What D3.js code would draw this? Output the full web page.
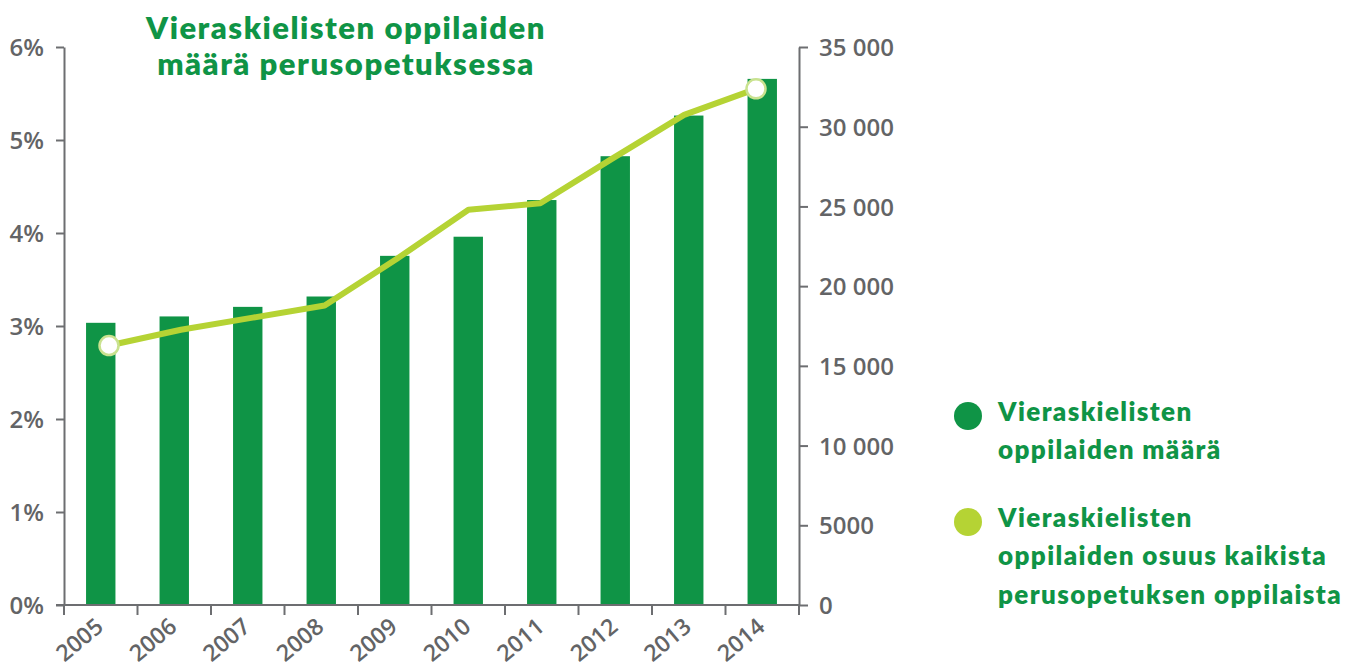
<!DOCTYPE html>
<html>
<head>
<meta charset="utf-8">
<script src="https://cdn.jsdelivr.net/npm/d3@7"></script>
<style>
  body { margin: 0; background: #fff; }
  .tick text { font-family: "Open Sans", sans-serif; font-weight: 600; font-size: 24px; fill: #636466; }
  .title, .legend text { font-family: Lato, sans-serif; font-weight: 800; fill: #0f9446; }
</style>
</head>
<body>
<div id="viz"></div>
<script>

// data
var years = ["2005","2006","2007","2008","2009","2010","2011","2012","2013","2014"];
var pupils = [17700, 18100, 18700, 19350, 21900, 23100, 25400, 28150, 30700, 33000];
var share = [2.79, 2.96, 3.09, 3.22, 3.72, 4.25, 4.32, 4.80, 5.27, 5.55];
var leftTicks = [0, 1, 2, 3, 4, 5, 6];
var rightTicks = [0, 5000, 10000, 15000, 20000, 25000, 30000, 35000];
var titleLines = ["Vieraskielisten oppilaiden", "määrä perusopetuksessa"];
var legendItems = [
	{color: "#0f9446", lines: ["Vieraskielisten", "oppilaiden määrä"]},
	{color: "#b5d334", lines: ["Vieraskielisten", "oppilaiden osuus kaikista", "perusopetuksen oppilaista"]}
];

var width = 1365, height = 669;
var axisColor = "#6d6e71";

var svg = d3.select("#viz")
	.append("svg")
	.attr("width", width)
	.attr("height", height);

var x = d3.scaleBand().domain(years).range([64, 799]).paddingInner(0.6).paddingOuter(0.3);
var xLine = d3.scalePoint().domain(years).range([109, 756]);
var yLeft = d3.scaleLinear().domain([0, 6]).range([605, 47]);
var yRight = d3.scaleLinear().domain([0, 35000]).range([605, 47]);

// bars
svg.selectAll("rect.bar")
	.data(years)
	.enter()
	.append("rect")
	.attr("class", "bar")
	.attr("x", d => x(d))
	.attr("width", x.bandwidth())
	.attr("y", (d, i) => yRight(pupils[i]))
	.attr("height", (d, i) => yRight(0) - yRight(pupils[i]))
	.attr("fill", "#0f9446");

// axes
var fmtRight = d => d >= 10000 ? d3.format(",")(d).replace(",", " ") : String(d);

var gl = svg.append("g")
	.attr("transform", "translate(64,0)")
	.call(d3.axisLeft(yLeft).tickValues(leftTicks).tickFormat(d => d + "%").tickSize(8).tickSizeOuter(0).tickPadding(12));

var gr = svg.append("g")
	.attr("transform", "translate(799,0)")
	.call(d3.axisRight(yRight).tickValues(rightTicks).tickFormat(fmtRight).tickSize(9).tickSizeOuter(0).tickPadding(11));

[gl, gr].forEach(g => {
	g.select(".domain").attr("stroke", axisColor).attr("stroke-width", 2);
	g.selectAll(".tick line").attr("stroke", axisColor).attr("stroke-width", 2);
	g.selectAll(".tick text").attr("dy", "0.36em");
});

// bottom axis: ticks on band edges, labels at band centres
var bottom = svg.append("g");
bottom.append("line")
	.attr("x1", 56).attr("x2", 799)
	.attr("y1", yLeft(0)).attr("y2", yLeft(0))
	.attr("stroke", axisColor).attr("stroke-width", 2);

var edges = years.map((d, i) => x.range()[0] + i * x.step());
edges.push(x.range()[1]);

bottom.selectAll("line.tk")
	.data(edges)
	.enter()
	.append("line")
	.attr("class", "tk")
	.attr("x1", d => d).attr("x2", d => d)
	.attr("y1", yLeft(0)).attr("y2", yLeft(0) + 10)
	.attr("stroke", axisColor).attr("stroke-width", 2);

bottom.selectAll("text")
	.data(years)
	.enter()
	.append("text")
	.attr("transform", d => "translate(" + (x(d) + x.bandwidth() / 2 + 4) + "," + (yLeft(0) + 24) + ") rotate(-40)")
	.attr("text-anchor", "end")
	.style("font-family", "'Open Sans', sans-serif")
	.style("font-weight", 600)
	.style("font-size", "23px")
	.style("fill", "#636466")
	.text(d => d);

// share line
var line = d3.line()
	.x((d, i) => xLine(years[i]))
	.y(d => yLeft(d));

svg.append("path")
	.datum(share)
	.attr("d", line)
	.attr("fill", "none")
	.attr("stroke", "#b5d334")
	.attr("stroke-width", 6)
	.attr("stroke-linejoin", "round");

var ends = [0, share.length - 1];
svg.selectAll("circle.end")
	.data(ends)
	.enter()
	.append("circle")
	.attr("class", "end")
	.attr("cx", i => xLine(years[i]))
	.attr("cy", i => yLeft(share[i]))
	.attr("r", 9.5)
	.attr("fill", "#fff")
	.attr("stroke", "#c9e28f")
	.attr("stroke-width", 2.5);

// title
svg.selectAll("text.title")
	.data(titleLines)
	.enter()
	.append("text")
	.attr("class", "title")
	.attr("x", 346)
	.attr("y", (d, i) => 39 + i * 36)
	.attr("text-anchor", "middle")
	.style("font-size", "31px")
	.style("letter-spacing", "1.5px")
	.text(d => d);

// legend
var lg = svg.append("g").attr("class", "legend");
var legendTop = [421, 527];
legendItems.forEach((item, k) => {
	lg.append("circle")
		.attr("cx", 968)
		.attr("cy", legendTop[k] - 5)
		.attr("r", 14)
		.attr("fill", item.color);
	lg.selectAll("text.l" + k)
		.data(item.lines)
		.enter()
		.append("text")
		.attr("class", "l" + k)
		.attr("x", 998)
		.attr("y", (d, i) => legendTop[k] + i * 38.3)
		.style("font-size", "26px")
		.style("letter-spacing", "1.4px")
		.text(d => d);
});

</script>
</body>
</html>
